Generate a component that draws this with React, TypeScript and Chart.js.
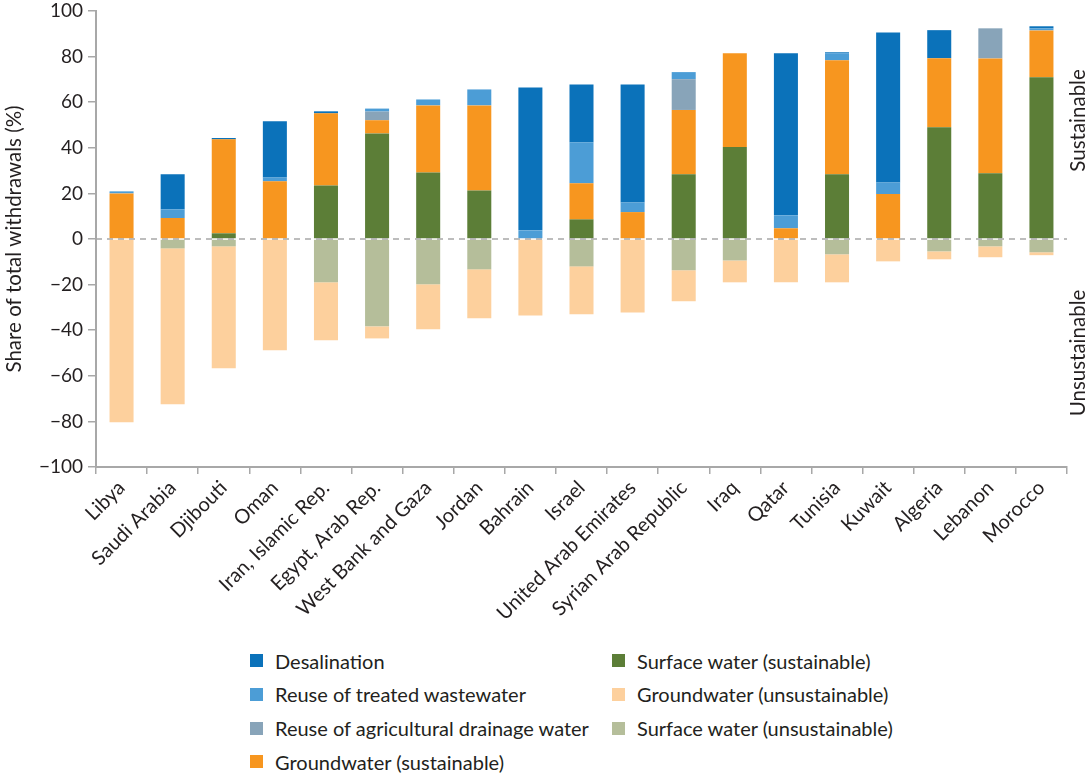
import React, { useEffect, useRef } from "react";
import { Chart, registerables } from "chart.js";

Chart.register(...registerables);

const countries = [
  "Libya", "Saudi Arabia", "Djibouti", "Oman", "Iran, Islamic Rep.", "Egypt, Arab Rep.",
  "West Bank and Gaza", "Jordan", "Bahrain", "Israel", "United Arab Emirates",
  "Syrian Arab Republic", "Iraq", "Qatar", "Tunisia", "Kuwait", "Algeria", "Lebanon", "Morocco",
];

const surfaceSustainable = [0, 0, 2.5, 0, 23.5, 46.3, 29.2, 21.3, 0, 8.6, 0, 28.4, 40.4, 0, 28.4, 0, 49.0, 28.8, 70.9];
const groundwaterSustainable = [20.0, 9.2, 41.2, 25.3, 31.6, 5.8, 29.4, 37.3, 0, 15.8, 11.8, 28.2, 41.1, 4.7, 50.0, 19.7, 30.3, 50.4, 20.6];
const agriculturalDrainage = [0, 0, 0, 0, 0, 3.8, 0, 0, 0, 0, 0, 13.5, 0, 0, 0, 0, 0, 13.2, 0];
const treatedWastewater = [0.9, 3.8, 0, 1.7, 0, 1.3, 2.6, 7.0, 3.8, 18.0, 4.2, 3.1, 0, 5.7, 3.1, 5.1, 0, 0, 0.9];
const desalination = [0, 15.4, 0.6, 24.6, 0.9, 0, 0, 0, 62.7, 25.4, 51.8, 0, 0, 71.1, 0.4, 65.8, 12.3, 0, 0.9];
const surfaceUnsustainable = [0, -4.1, -3.2, 0, -19.0, -38.3, -19.9, -13.3, 0, -12.0, 0, -13.7, -9.4, 0, -6.7, 0, -5.4, -3.2, -5.8];
const groundwaterUnsustainable = [-80.4, -68.4, -53.5, -48.8, -25.4, -5.3, -19.7, -21.5, -33.5, -21.0, -32.2, -13.6, -9.6, -19.0, -12.3, -9.8, -3.5, -4.8, -1.3];

const yTicks = [-100, -80, -60, -40, -20, 0, 20, 40, 60, 80, 100];

const COLORS = {
  desal: "#0B72BA",
  treated: "#4C9DD6",
  agri: "#88A4B9",
  gwSus: "#F7961F",
  swSus: "#5C7E37",
  gwUns: "#FDD09D",
  swUns: "#B5BE9A",
};

const legendItems = [
  { label: "Desalination", color: COLORS.desal, col: 0, row: 0 },
  { label: "Reuse of treated wastewater", color: COLORS.treated, col: 0, row: 1 },
  { label: "Reuse of agricultural drainage water", color: COLORS.agri, col: 0, row: 2 },
  { label: "Groundwater (sustainable)", color: COLORS.gwSus, col: 0, row: 3 },
  { label: "Surface water (sustainable)", color: COLORS.swSus, col: 1, row: 0 },
  { label: "Groundwater (unsustainable)", color: COLORS.gwUns, col: 1, row: 1 },
  { label: "Surface water (unsustainable)", color: COLORS.swUns, col: 1, row: 2 },
];

const FONT = "Lato";
const TEXT = "#231f20";
const AXIS = "#a8a8a8";

const overlayPlugin = {
  id: "overlay",
  afterDatasetsDraw(chart: any) {
    const { ctx, chartArea, scales } = chart;
    const y0 = scales.y.getPixelForValue(0);
    ctx.save();
    ctx.strokeStyle = "#a8a8a8";
    ctx.lineWidth = 1.5;
    ctx.setLineDash([6, 5]);
    ctx.beginPath();
    ctx.moveTo(chartArea.left, y0);
    ctx.lineTo(chartArea.right, y0);
    ctx.stroke();
    ctx.setLineDash([]);
    ctx.fillStyle = TEXT;
    ctx.font = `20.5px ${FONT}`;
    ctx.textAlign = "center";
    ctx.textBaseline = "middle";
    const x = chartArea.right + 11;
    const yTop = scales.y.getPixelForValue(52);
    const yBot = scales.y.getPixelForValue(-50);
    ctx.translate(x, yTop);
    ctx.rotate(-Math.PI / 2);
    ctx.fillText("Sustainable", 0, 0);
    ctx.rotate(Math.PI / 2);
    ctx.translate(0, yBot - yTop);
    ctx.rotate(-Math.PI / 2);
    ctx.fillText("Unsustainable", 0, 0);
    ctx.restore();
  },
};

export default function App() {
  const ref = useRef<HTMLCanvasElement | null>(null);

  useEffect(() => {
    if (!ref.current) return;
    const mk = (label: string, data: number[], color: string) => ({
      label,
      data,
      backgroundColor: color,
      borderWidth: 0,
      stack: "s",
      barPercentage: 0.47,
      categoryPercentage: 1,
    });
    const chart = new Chart(ref.current, {
      type: "bar",
      data: {
        labels: countries,
        datasets: [
          mk("Surface water (sustainable)", surfaceSustainable, COLORS.swSus),
          mk("Groundwater (sustainable)", groundwaterSustainable, COLORS.gwSus),
          mk("Reuse of agricultural drainage water", agriculturalDrainage, COLORS.agri),
          mk("Reuse of treated wastewater", treatedWastewater, COLORS.treated),
          mk("Desalination", desalination, COLORS.desal),
          mk("Surface water (unsustainable)", surfaceUnsustainable, COLORS.swUns),
          mk("Groundwater (unsustainable)", groundwaterUnsustainable, COLORS.gwUns),
        ],
      },
      options: {
        animation: false,
        responsive: false,
        maintainAspectRatio: false,
        layout: { padding: { top: 11, right: 19, left: 0, bottom: 0 } },
        plugins: { legend: { display: false }, tooltip: { enabled: false } },
        scales: {
          x: {
            stacked: true,
            grid: { display: true, drawOnChartArea: false, drawTicks: true, tickLength: 7, color: AXIS, lineWidth: 1.5, offset: true },
            border: { display: true, color: AXIS, width: 2 },
            ticks: {
              autoSkip: false,
              maxRotation: 45,
              minRotation: 45,
              color: TEXT,
              font: { family: FONT, size: 20 },
              padding: 2,
            },
            afterFit(scale: any) {
              scale.height = 173;
              scale.paddingLeft = 0;
              scale.paddingRight = 0;
            },
          },
          y: {
            stacked: true,
            min: -100,
            max: 100,
            afterBuildTicks(scale: any) {
              scale.ticks = yTicks.map((v) => ({ value: v }));
            },
            grid: { display: true, drawOnChartArea: false, drawTicks: true, tickLength: 8, color: AXIS, lineWidth: 1.5 },
            border: { display: true, color: AXIS, width: 2 },
            ticks: {
              color: TEXT,
              font: { family: FONT, size: 19 },
              padding: 5,
              callback: (v: any) => (Number(v) < 0 ? "\u2212" + Math.abs(Number(v)) : String(v)),
            },
            title: {
              display: true,
              text: "Share of total withdrawals (%)",
              color: TEXT,
              font: { family: FONT, size: 20.5 },
              padding: { top: 2, bottom: 0 },
            },
            afterFit(scale: any) {
              scale.width = 96;
              scale.paddingTop = 0;
              scale.paddingBottom = 0;
            },
          },
        },
      },
      plugins: [overlayPlugin],
    });
    return () => chart.destroy();
  }, []);

  return (
    <div style={{ position: "absolute", left: 0, top: 0, width: 1086, height: 775, background: "#fff", fontFamily: FONT }}>
      <canvas ref={ref} width={1086} height={640} style={{ position: "absolute", left: 0, top: 0, width: 1086, height: 640 }} />
      {legendItems.map((it) => (
        <div
          key={it.label}
          style={{
            position: "absolute",
            left: it.col === 0 ? 250 : 612,
            top: 660.5 + it.row * 33.8 - 12,
            height: 24,
            display: "flex",
            alignItems: "center",
            fontSize: 20,
            color: TEXT,
            whiteSpace: "nowrap",
          }}
        >
          <span style={{ display: "inline-block", width: 13, height: 13, background: it.color, marginRight: 12, flex: "none" }} />
          {it.label}
        </div>
      ))}
    </div>
  );
}
